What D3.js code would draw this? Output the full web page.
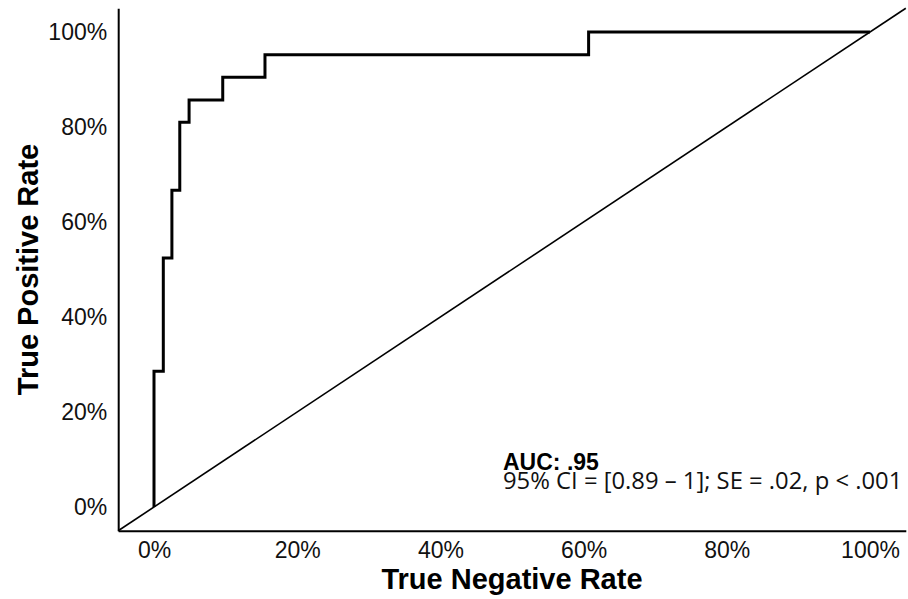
<!DOCTYPE html>
<html>
<head>
<meta charset="utf-8">
<script src="https://cdn.jsdelivr.net/npm/d3@7"></script>
<style>
  body { margin: 0; background: #fff; }
  svg { display: block; }
</style>
</head>
<body>
<svg id="chart" width="908" height="599"></svg>
<script>
// ROC curve: false positive share along x (labelled as in the original), sensitivity along y
const fpr = [0, 0.013, 0.025, 0.036, 0.049, 0.096, 0.155, 0.607, 1.0];
const tpr = [0, 0.286, 0.524, 0.667, 0.810, 0.857, 0.905, 0.952, 1.0];
const xTicks = [0, 0.2, 0.4, 0.6, 0.8, 1.0];
const yTicks = [0, 0.2, 0.4, 0.6, 0.8, 1.0];
const aucLabel = "AUC: .95";
const statsLabel = "95% CI = [0.89 \u2013 1]; SE = .02, p < .001";

const width = 908, height = 599;
const margin = { top: 8.25, right: 2.2, bottom: 68.25, left: 118.2 };
const expand = 0.05;   // panel padding, like the default ggplot expansion

const svg = d3.select("#chart");

const xscale = d3.scaleLinear()
    .domain([-expand, 1 + expand])
    .range([margin.left, width - margin.right]);
const yscale = d3.scaleLinear()
    .domain([-expand, 1 + expand])
    .range([height - margin.bottom, margin.top]);

const fmt = d3.format(".0%");
const tickFont = "'Liberation Sans', Arial, sans-serif";

// x axis
svg.append("g")
    .attr("transform", `translate(0, ${height - margin.bottom})`)
    .call(d3.axisBottom(xscale).tickValues(xTicks).tickFormat(fmt)
        .tickSize(0).tickSizeOuter(0).tickPadding(10.5))
    .call(g => g.select(".domain").attr("stroke", "#000").attr("stroke-width", 2))
    .call(g => g.selectAll("text")
        .attr("font-family", tickFont).attr("font-size", 23).attr("fill", "#111"));

// y axis
svg.append("g")
    .attr("transform", `translate(${margin.left}, 0)`)
    .call(d3.axisLeft(yscale).tickValues(yTicks).tickFormat(fmt)
        .tickSize(0).tickSizeOuter(0).tickPadding(11))
    .call(g => g.select(".domain").attr("stroke", "#000").attr("stroke-width", 2))
    .call(g => g.selectAll("text")
        .attr("font-family", tickFont).attr("font-size", 23).attr("fill", "#111"));

// chance diagonal across the whole panel
const diag = xscale.domain();
svg.append("line")
    .attr("x1", xscale(diag[0])).attr("y1", yscale(diag[0]))
    .attr("x2", xscale(diag[1])).attr("y2", yscale(diag[1]))
    .attr("stroke", "#000").attr("stroke-width", 1.6);

// the ROC step curve
const line = d3.line()
    .x((d, i) => xscale(fpr[i]))
    .y((d, i) => yscale(tpr[i]))
    .curve(d3.curveStepBefore);

svg.append("path")
    .datum(fpr)
    .attr("d", line)
    .attr("fill", "none")
    .attr("stroke", "#000")
    .attr("stroke-width", 3)
    .attr("stroke-linejoin", "miter");

// axis titles
svg.append("text")
    .attr("x", (margin.left + width - margin.right) / 2)
    .attr("y", 589)
    .attr("text-anchor", "middle")
    .attr("font-family", tickFont)
    .attr("font-weight", "bold")
    .attr("font-size", 29)
    .text("True Negative Rate");

svg.append("text")
    .attr("transform", `translate(38, ${(margin.top + height - margin.bottom) / 2}) rotate(-90)`)
    .attr("text-anchor", "middle")
    .attr("font-family", tickFont)
    .attr("font-weight", "bold")
    .attr("font-size", 29)
    .text("True Positive Rate");

// annotation
svg.append("text")
    .attr("x", 503).attr("y", 470)
    .attr("font-family", tickFont)
    .attr("font-weight", "bold")
    .attr("font-size", 23)
    .text(aucLabel);

svg.append("text")
    .attr("x", 503).attr("y", 489)
    .attr("font-family", "'Open Sans', 'Noto Sans', sans-serif")
    .attr("font-size", 23.8)
    .attr("fill", "#111")
    .text(statsLabel);
</script>
</body>
</html>
